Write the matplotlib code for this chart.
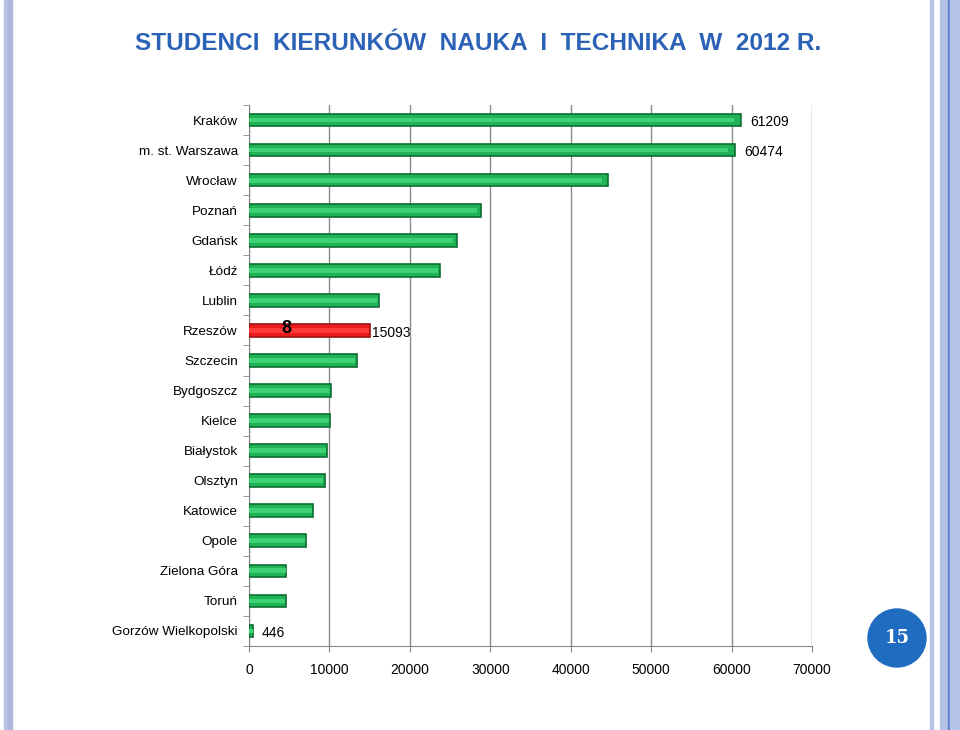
import matplotlib
matplotlib.use('Agg')
import matplotlib.pyplot as plt
from matplotlib import font_manager
from matplotlib.patches import Rectangle, Ellipse

# dane
miasta = ['Kraków', 'm. st. Warszawa', 'Wrocław', 'Poznań', 'Gdańsk', 'Łódź', 'Lublin',
          'Rzeszów', 'Szczecin', 'Bydgoszcz', 'Kielce', 'Białystok', 'Olsztyn',
          'Katowice', 'Opole', 'Zielona Góra', 'Toruń', 'Gorzów Wielkopolski']
studenci = [61209, 60474, 44600, 28800, 25800, 23800, 16150, 15093, 13400, 10150,
            10100, 9700, 9400, 8000, 7050, 4650, 4550, 446]
etykiety = {'Kraków': '61209', 'm. st. Warszawa': '60474', 'Rzeszów': '15093',
            'Gorzów Wielkopolski': '446'}
wyrozniony = 'Rzeszów'
pozycja = '8'
xticks = [0, 10000, 20000, 30000, 40000, 50000, 60000, 70000]

names = {f.name for f in font_manager.fontManager.ttflist}
font = 'Liberation Sans' if 'Liberation Sans' in names else 'DejaVu Sans'
plt.rcParams['font.family'] = [font, 'DejaVu Sans']

fig = plt.figure(figsize=(9.6, 7.3), dpi=100)
ax = fig.add_axes([249/960, 1-646/730, 563/960, 541/730])

y = list(range(len(miasta)))
kolory = ['#ED1C1C' if m == wyrozniony else '#1FB355' for m in miasta]
krawedzie = ['#A01212' if m == wyrozniony else '#0C6E32' for m in miasta]
ax.barh(y, studenci, height=0.42, color=kolory, edgecolor=krawedzie, linewidth=1.2, zorder=3)
jasne = ['#FF3B3B' if m == wyrozniony else '#3ED275' for m in miasta]
ax.barh(y, [v * 0.985 for v in studenci], height=0.16, color=jasne, linewidth=0, zorder=4)

ax.set_xlim(0, 70000)
ax.set_ylim(len(miasta) - 0.5, -0.5)
ax.set_xticks(xticks)
ax.set_xticklabels([str(t) for t in xticks], fontsize=10)
ax.set_yticks(y)
ax.set_yticklabels(miasta, fontsize=9.7)
ax.set_yticks([i - 0.5 for i in range(len(miasta) + 1)], minor=True)
ax.tick_params(axis='y', which='major', length=0, pad=8)
ax.tick_params(axis='y', which='minor', length=4, color='#888888')
ax.tick_params(axis='x', length=4, color='#888888', pad=8)
ax.grid(axis='x', color='#8C8C8C', linewidth=1, zorder=0)
for s in ['top', 'right']:
    ax.spines[s].set_visible(False)
for s in ['left', 'bottom']:
    ax.spines[s].set_color('#888888')

for i, (m, v) in enumerate(zip(miasta, studenci)):
    if m in etykiety:
        dx = 200 if m == wyrozniony else 1100
        ax.text(v + dx, i + 0.08, etykiety[m], va='center', ha='left', fontsize=10, zorder=5)
ir = miasta.index(wyrozniony)
ax.text(4700, ir - 0.08, pozycja, ha='center', va='center', fontsize=13,
        fontweight='bold', zorder=5)

# tytuł
tf = 'Liberation Sans Narrow' if 'Liberation Sans Narrow' in names else font
fig.text(478/960, 1-44/730, 'STUDENCI  KIERUNKÓW  NAUKA  I  TECHNIKA  W  2012 R.',
         ha='center', va='center', fontsize=21 if tf != font else 17.6,
         fontweight='bold', color='#2B62B5', family=tf)

# dekoracje
for x0, w, c in [(4, 3, '#B7C3E3'), (8, 4, '#AAB8DE'),
                 (930, 3, '#B7C3E3'), (940, 8, '#B3C2E6'), (948, 1.5, '#5C82CC'),
                 (950, 10, '#B3C2E6')]:
    fig.patches.append(Rectangle((x0/960, 0), w/960, 1, transform=fig.transFigure,
                                 color=c, zorder=0))
fig.patches.append(Ellipse((897/960, 1-638/730), 58/960, 58/730, transform=fig.transFigure,
                           color='#1F6CC0', zorder=1))
fig.text(897/960, 1-638/730, '15', ha='center', va='center', color='white',
         fontsize=13, fontweight='bold', family='DejaVu Serif')

fig.savefig('out.png', dpi=100)
